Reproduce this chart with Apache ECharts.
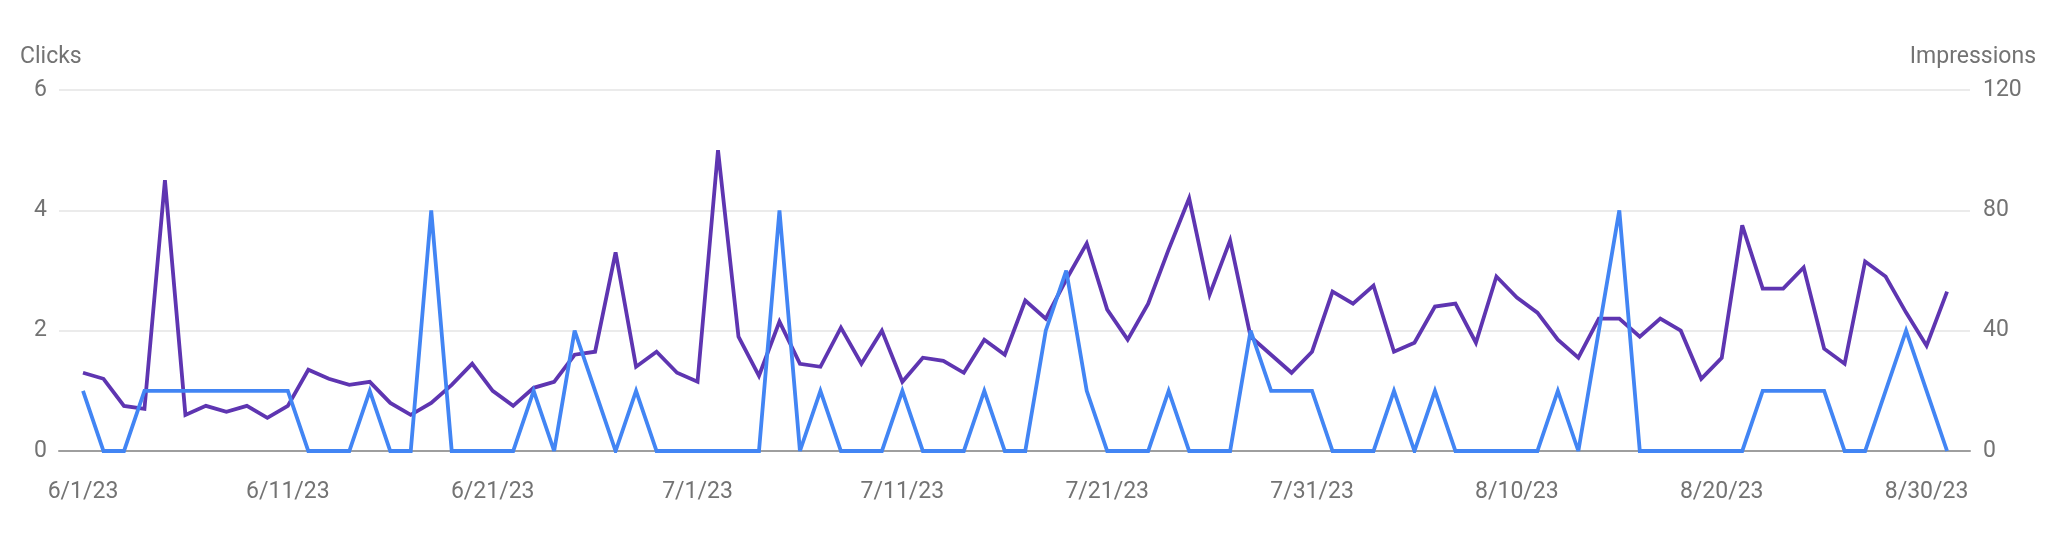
<!DOCTYPE html>
<html>
<head>
<meta charset="utf-8">
<script src="https://cdn.jsdelivr.net/npm/echarts@6/dist/echarts.min.js"></script>
<style>
html,body{margin:0;padding:0;background:#ffffff;}
#chart{width:2048px;height:533px;}
</style>
</head>
<body>
<div id="chart"></div>
<script>
// Daily values, 6/1/23 .. 8/31/23 (index = day number from 6/1/23)
const clicks = [
  1,0,0,1,1,1,1,1,1,1,
  1,0,0,0,1,0,0,4,0,0,
  0,0,1,0,2,1,0,1,0,0,
  0,0,0,0,4,0,1,0,0,0,
  1,0,0,0,1,0,0,2,3,1,
  0,0,0,1,0,0,0,2,1,1,
  1,0,0,0,1,0,1,0,0,0,
  0,0,1,0,2,4,0,0,0,0,
  0,0,1,1,1,1,0,0,1,2,
  1,0
];
const impressions = [
  26,24,15,14,90,12,15,13,15,11,
  15,27,24,22,23,16,12,16,22,29,
  20,15,21,23,32,33,66,28,33,26,
  23,100,38,25,43,29,28,41,29,40,
  23,31,30,26,37,32,50,44,57,69,
  47,37,49,67,84,52,70,38,32,26,
  33,53,49,55,33,36,48,49,36,58,
  51,46,37,31,44,44,38,44,40,24,
  31,75,54,54,61,34,29,63,58,46,
  35,53
];
const tickDays = [0,10,20,30,40,50,60,70,80,90];
const tickLabels = ['6/1/23','6/11/23','6/21/23','7/1/23','7/11/23','7/21/23','7/31/23','8/10/23','8/20/23','8/30/23'];
const clicksAxisName = 'Clicks';
const impressionsAxisName = 'Impressions';

const FONT = 'Roboto';
const GREY = '#737373';
const FS = 23;

const chart = echarts.init(document.getElementById('chart'), null, {renderer:'canvas'});
chart.setOption({
  animation:false,
  backgroundColor:'#ffffff',
  textStyle:{fontFamily:FONT},
  grid:{left:59, right:78, top:90, bottom:82, containLabel:false},
  graphic:[
    {type:'text', left:20, top:46, style:{text:clicksAxisName, font:FS+'px Roboto', fill:GREY}},
    {type:'text', right:12, top:46, style:{text:impressionsAxisName, font:FS+'px Roboto', fill:GREY}}
  ],
  xAxis:{
    type:'value',
    min:-1.1717,
    max:92.12,
    axisLine:{show:true, onZero:false, lineStyle:{color:'#9e9e9e', width:2}},
    axisTick:{show:false},
    splitLine:{show:false},
    axisLabel:{
      customValues:tickDays,
      formatter:function(v){ const k = tickDays.indexOf(Math.round(v)); return k>=0 ? tickLabels[k] : ''; },
      margin:30, fontSize:FS, color:GREY, fontFamily:FONT
    }
  },
  yAxis:[
    {
      type:'value', min:0, max:6, interval:2, position:'left',
      axisLine:{show:false}, axisTick:{show:false},
      splitLine:{show:true, lineStyle:{color:'#ebebeb', width:2}},
      axisLabel:{margin:12, fontSize:FS, color:GREY, fontFamily:FONT}
    },
    {
      type:'value', min:0, max:120, interval:40, position:'right',
      axisLine:{show:false}, axisTick:{show:false},
      splitLine:{show:false},
      axisLabel:{margin:13, fontSize:FS, color:GREY, fontFamily:FONT}
    }
  ],
  series:[
    {
      name:impressionsAxisName, type:'line', yAxisIndex:1,
      data:impressions.map(function(v,i){return [i,v];}),
      symbol:'none', smooth:false,
      lineStyle:{color:'#5e35b1', width:3.8, join:'miter', miterLimit:4},
      z:2
    },
    {
      name:clicksAxisName, type:'line', yAxisIndex:0,
      data:clicks.map(function(v,i){return [i,v];}),
      symbol:'none', smooth:false,
      lineStyle:{color:'#4285f4', width:3.8, join:'miter', miterLimit:4},
      z:3
    }
  ]
});
</script>
</body>
</html>
